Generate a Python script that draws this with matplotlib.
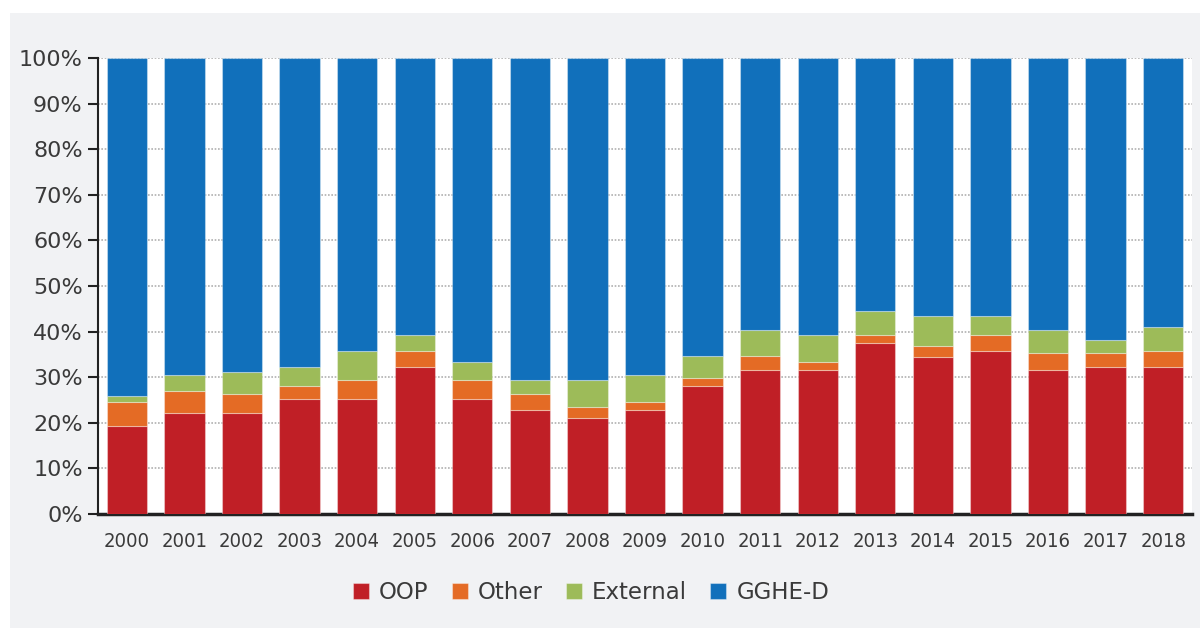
import numpy as np
import matplotlib
matplotlib.use("Agg")
import matplotlib.pyplot as plt
from matplotlib.patches import Rectangle
from matplotlib.ticker import PercentFormatter

years = [str(y) for y in range(2000, 2019)]
oop = [19.4, 22.2, 22.2, 25.2, 25.2, 32.2, 25.2, 22.9, 21.1, 22.9,
       28.1, 31.6, 31.6, 37.5, 34.5, 35.7, 31.6, 32.2, 32.2]
other = [5.2, 4.8, 4.2, 2.9, 4.1, 3.5, 4.1, 3.5, 2.4, 1.7,
         1.8, 3.0, 1.8, 1.8, 2.4, 3.6, 3.6, 3.0, 3.5]
external = [1.2, 3.5, 4.7, 4.1, 6.4, 3.6, 4.1, 2.9, 5.8, 5.9,
            4.7, 5.8, 5.9, 5.2, 6.5, 4.1, 5.2, 2.9, 5.3]
gghe_d = [100 - a - b - c for a, b, c in zip(oop, other, external)]

series = [("OOP", oop, "#c01f26"), ("Other", other, "#e46b25"),
          ("External", external, "#9dbb59"), ("GGHE-D", gghe_d, "#1170bb")]

TEXT = "#3a3a3a"
BG = "#f1f2f4"

fig = plt.figure(figsize=(12, 6.28), dpi=100)
fig.patch.set_facecolor("white")
fig.patches.append(Rectangle((10 / 1200, 0), 1, 1 - 13 / 628,
                             transform=fig.transFigure, facecolor=BG,
                             edgecolor="none", zorder=-10))
ax = fig.add_axes([98 / 1200, 114 / 628, 1094 / 1200, 456 / 628])
ax.set_facecolor("white")

x = np.arange(len(years))
bottom = np.zeros(len(years))
for name, vals, col in series:
    ax.bar(x, vals, 0.7, bottom=bottom, color=col, label=name,
           edgecolor=(1, 1, 1, 0.35), linewidth=0.8, zorder=3)
    bottom += np.array(vals)

ax.set_xlim(-0.5, len(years) - 0.5)
ax.set_ylim(0, 100)
ax.set_yticks(np.arange(0, 101, 10))
ax.yaxis.set_major_formatter(PercentFormatter(decimals=0))
ax.yaxis.grid(True, linestyle=(0, (1, 1)), color="#b0b0b0", linewidth=1.2, zorder=0)

for s in ["top", "right"]:
    ax.spines[s].set_visible(False)
ax.spines["left"].set_color("#222222")
ax.spines["left"].set_linewidth(1.5)
ax.spines["bottom"].set_color("#222222")
ax.spines["bottom"].set_linewidth(2.5)

ax.tick_params(axis="y", length=7, width=1.5, color="#222222", labelsize=16,
               labelcolor=TEXT, pad=4)
ax.tick_params(axis="x", length=0, pad=13)
ax.set_xticks(x)
ax.set_xticklabels(years, fontsize=14.5, color=TEXT, fontstretch="condensed")

ax.legend(loc="center", bbox_to_anchor=(493 / 1094, -0.173), ncol=4,
          frameon=False, fontsize=16.5, labelcolor=TEXT, handlelength=0.7,
          handleheight=0.7, handletextpad=0.45, columnspacing=1.0)

fig.savefig("out.png", dpi=100, facecolor=fig.get_facecolor())
